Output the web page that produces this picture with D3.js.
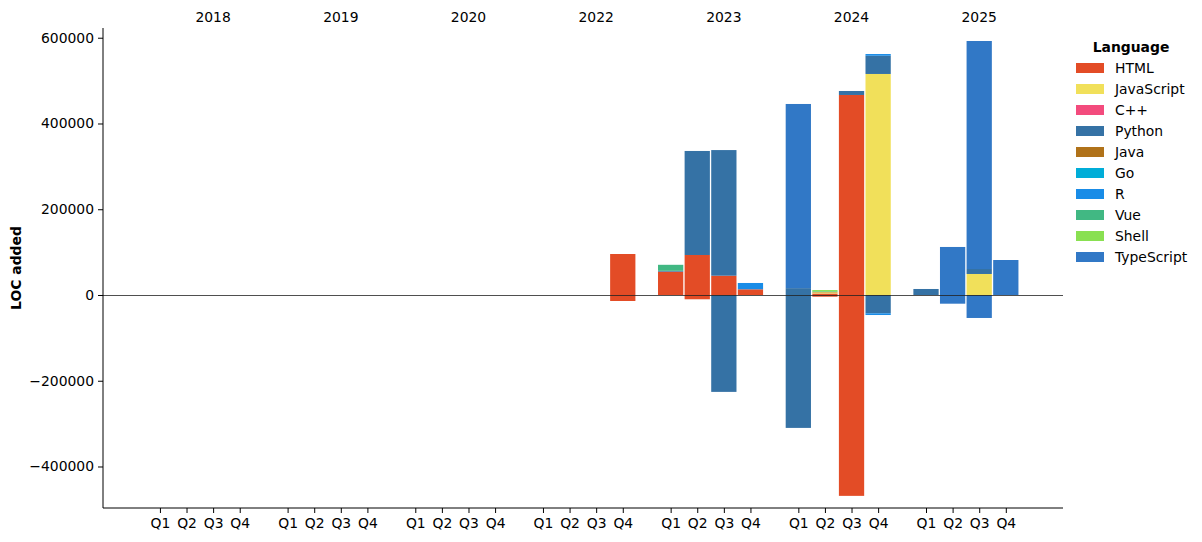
<!DOCTYPE html>
<html>
<head>
<meta charset="utf-8">
<script src="https://cdn.jsdelivr.net/npm/d3@7"></script>
<style>
  body { margin: 0; background: #fff; }
  svg { font-family: "DejaVu Sans", sans-serif; }
</style>
</head>
<body>
<svg id="chart" width="1202" height="542"></svg>
<script>
const years = ["2018", "2019", "2020", "2022", "2023", "2024", "2025"];
const quarters = ["Q1", "Q2", "Q3", "Q4"];
const languages = ["HTML", "JavaScript", "C++", "Python", "Java", "Go", "R", "Vue", "Shell", "TypeScript"];
const colors = ["#e34c26", "#f1e05a", "#f34b7d", "#3572A5", "#b07219", "#00ADD8", "#198CE7", "#41b883", "#89e051", "#3178c6"];
const yTicks = [-400000, -200000, 0, 200000, 400000, 600000];

// 28 quarters: 2018 Q1..Q4, 2019, 2020, 2022, 2023, 2024, 2025
const htmlAdded    = [0,0,0,0, 0,0,0,0, 0,0,0,0, 0,0,0,95600, 54400,93300,45000,13300, 0,3500,466500,0, 0,0,0,0];
const htmlRemoved  = [0,0,0,0, 0,0,0,0, 0,0,0,0, 0,0,0,-14000, 0,-10000,0,0, 0,-4000,-468500,0, 0,0,0,0];
const jsAdded      = [0,0,0,0, 0,0,0,0, 0,0,0,0, 0,0,0,0, 0,0,0,0, 0,2500,0,515500, 0,0,49000,0];
const jsRemoved    = [0,0,0,0, 0,0,0,0, 0,0,0,0, 0,0,0,0, 0,0,0,0, 0,0,0,0, 0,0,0,0];
const cppAdded     = [0,0,0,0, 0,0,0,0, 0,0,0,0, 0,0,0,0, 0,0,0,0, 0,0,0,0, 0,0,0,0];
const cppRemoved   = [0,0,0,0, 0,0,0,0, 0,0,0,0, 0,0,0,0, 0,0,0,0, 0,0,0,0, 0,0,0,0];
const pyAdded      = [0,0,0,0, 0,0,0,0, 0,0,0,0, 0,0,0,0, 2000,242600,293000,0, 16000,0,9300,42500, 14000,0,11600,0];
const pyRemoved    = [0,0,0,0, 0,0,0,0, 0,0,0,0, 0,0,0,0, 0,0,-226000,0, -310000,0,0,-42700, 0,0,0,0];
const javaAdded    = [0,0,0,0, 0,0,0,0, 0,0,0,0, 0,0,0,0, 0,0,0,0, 0,1000,0,0, 0,0,0,0];
const javaRemoved  = [0,0,0,0, 0,0,0,0, 0,0,0,0, 0,0,0,0, 0,0,0,0, 0,0,0,0, 0,0,0,0];
const goAdded      = [0,0,0,0, 0,0,0,0, 0,0,0,0, 0,0,0,0, 0,0,0,0, 0,0,0,0, 0,0,0,0];
const goRemoved    = [0,0,0,0, 0,0,0,0, 0,0,0,0, 0,0,0,0, 0,0,0,0, 0,0,0,0, 0,0,0,0];
const rAdded       = [0,0,0,0, 0,0,0,0, 0,0,0,0, 0,0,0,0, 0,0,0,14700, 0,0,0,4000, 0,0,0,0];
const rRemoved     = [0,0,0,0, 0,0,0,0, 0,0,0,0, 0,0,0,0, 0,0,0,0, 0,0,0,-4000, 0,0,0,0];
const vueAdded     = [0,0,0,0, 0,0,0,0, 0,0,0,0, 0,0,0,0, 14000,0,0,0, 0,1500,0,0, 0,0,0,0];
const vueRemoved   = [0,0,0,0, 0,0,0,0, 0,0,0,0, 0,0,0,0, 0,0,0,0, 0,0,0,0, 0,0,0,0];
const shellAdded   = [0,0,0,0, 0,0,0,0, 0,0,0,0, 0,0,0,0, 0,0,0,0, 0,3000,0,0, 0,0,0,0];
const shellRemoved = [0,0,0,0, 0,0,0,0, 0,0,0,0, 0,0,0,0, 0,0,0,0, 0,0,0,0, 0,0,0,0];
const tsAdded      = [0,0,0,0, 0,0,0,0, 0,0,0,0, 0,0,0,0, 0,0,0,0, 429500,0,0,0, 0,112000,531800,81600];
const tsRemoved    = [0,0,0,0, 0,0,0,0, 0,0,0,0, 0,0,0,0, 0,0,0,0, 0,0,0,0, 0,-20300,-53600,0];

const addedByLang = [htmlAdded, jsAdded, cppAdded, pyAdded, javaAdded, goAdded, rAdded, vueAdded, shellAdded, tsAdded];
const removedByLang = [htmlRemoved, jsRemoved, cppRemoved, pyRemoved, javaRemoved, goRemoved, rRemoved, vueRemoved, shellRemoved, tsRemoved];

const FS = 13.9;
const svg = d3.select("#chart");
const pLeft = 103, pRight = 1063, pTop = 28, pBottom = 508;
const groupStep = 4.8;

const x = d3.scaleLinear().domain([-2.14, 33.95]).range([pLeft, pRight]);
const y = d3.scaleLinear().domain([-496800, 622700]).range([pBottom, pTop]);
const unit = x(1) - x(0);
const barW = unit * 0.95;

// slot positions
const slots = [];
years.forEach((yr, yi) => quarters.forEach((q, qi) => slots.push({ yr, q, pos: yi * groupStep + qi })));

// stacked bars
const posBase = new Array(slots.length).fill(0);
const negBase = new Array(slots.length).fill(0);
const barsG = svg.append("g");
languages.forEach((lang, li) => {
  const segs = [];
  slots.forEach((s, i) => {
    const a = addedByLang[li][i];
    if (a > 0) { segs.push({ pos: s.pos, y0: posBase[i], y1: posBase[i] + a }); posBase[i] += a; }
    const r = removedByLang[li][i];
    if (r < 0) { segs.push({ pos: s.pos, y0: negBase[i] + r, y1: negBase[i] }); negBase[i] += r; }
  });
  barsG.selectAll(null).data(segs).enter().append("rect")
    .attr("x", d => x(d.pos) - barW / 2)
    .attr("width", barW)
    .attr("y", d => y(d.y1))
    .attr("height", d => y(d.y0) - y(d.y1))
    .attr("fill", colors[li]);
});

// zero line
svg.append("line")
  .attr("x1", pLeft).attr("x2", pRight)
  .attr("y1", Math.round(y(0)) + 0.5).attr("y2", Math.round(y(0)) + 0.5)
  .attr("stroke", "#222").attr("stroke-width", 0.8);

// y axis
const yAxis = d3.axisLeft(y).tickValues(yTicks).tickSize(5).tickPadding(4)
  .tickFormat(d => d < 0 ? "\u2212" + Math.abs(d) : String(d));
const yg = svg.append("g").attr("transform", `translate(${pLeft},0)`).call(yAxis);
yg.select(".domain").remove();
yg.selectAll("text").attr("font-size", FS).attr("fill", "#000").attr("font-family", "DejaVu Sans");
yg.selectAll("line").attr("stroke", "#000");

// x axis
const xAxis = d3.axisBottom(x).tickValues(slots.map(s => s.pos)).tickSize(5).tickPadding(5)
  .tickFormat((d, i) => slots[i].q);
const xg = svg.append("g").attr("transform", `translate(0,${pBottom})`).call(xAxis);
xg.select(".domain").remove();
xg.selectAll("text").attr("font-size", FS).attr("fill", "#000").attr("font-family", "DejaVu Sans");
xg.selectAll("line").attr("stroke", "#000");

// spines
svg.append("line").attr("x1", pLeft).attr("x2", pLeft).attr("y1", pTop).attr("y2", pBottom)
  .attr("stroke", "#000").attr("stroke-width", 1);
svg.append("line").attr("x1", pLeft).attr("x2", pRight).attr("y1", pBottom).attr("y2", pBottom)
  .attr("stroke", "#000").attr("stroke-width", 1);

// year labels
svg.append("g").selectAll("text").data(years).enter().append("text")
  .attr("x", (d, i) => x(i * groupStep + 2))
  .attr("y", 21.5)
  .attr("text-anchor", "middle")
  .attr("font-size", FS)
  .text(d => d);

// y label
svg.append("text")
  .attr("transform", `translate(21,${(pTop + pBottom) / 2}) rotate(-90)`)
  .attr("text-anchor", "middle")
  .attr("font-size", FS)
  .attr("font-weight", "bold")
  .text("LOC added");

// legend
const lg = svg.append("g");
lg.append("text").attr("x", 1131).attr("y", 52).attr("text-anchor", "middle")
  .attr("font-size", FS).attr("font-weight", "bold").text("Language");
languages.forEach((lang, i) => {
  const cy = 68 + i * 21;
  lg.append("rect").attr("x", 1076).attr("y", cy - 5).attr("width", 28).attr("height", 10)
    .attr("fill", colors[i]);
  lg.append("text").attr("x", 1115).attr("y", cy + 5).attr("font-size", FS).text(lang);
});
</script>
</body>
</html>
